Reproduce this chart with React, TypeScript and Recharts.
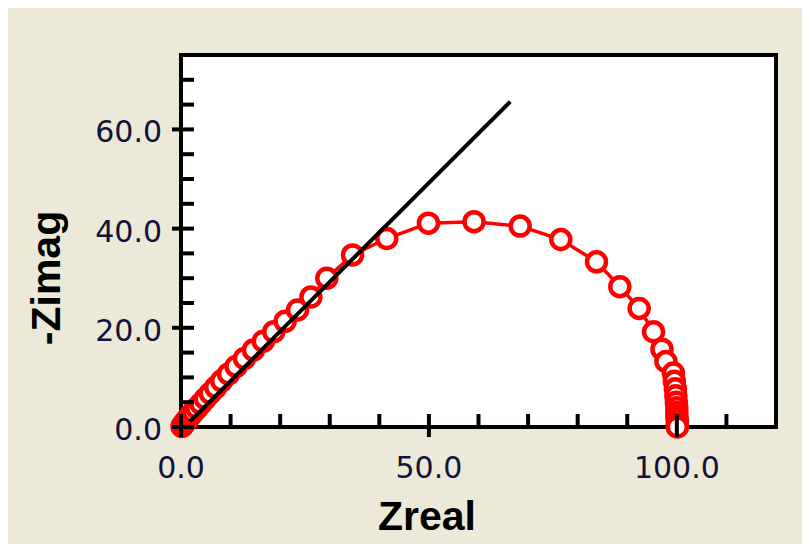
import {
  CartesianGrid,
  Label,
  ReferenceLine,
  Scatter,
  ScatterChart,
  XAxis,
  YAxis,
} from 'recharts'

// Nyquist points (ohm)
const zReal = [
  0.2, 0.4, 0.7, 1.0, 1.4, 1.9, 2.5, 3.2, 4.0, 4.9, 5.9, 7.0, 8.2, 9.6, 11.1, 12.8,
  14.6, 16.6, 18.7, 21.0, 23.5, 26.2, 29.4, 34.6, 41.5, 49.9, 59.1, 68.4, 76.6, 83.8,
  88.5, 92.4, 95.3, 97.0, 97.8, 99.3, 99.5, 99.7, 99.8, 99.9, 100.0, 100.0, 100.0,
  100.1, 100.1, 100.1,
]
const zImag = [
  0.1, 0.4, 0.8, 1.2, 1.7, 2.3, 3.0, 3.8, 4.7, 5.7, 6.8, 8.0, 9.3, 10.7, 12.2, 13.8,
  15.5, 17.3, 19.2, 21.3, 23.6, 26.2, 30.0, 34.7, 38.0, 41.1, 41.4, 40.5, 37.8, 33.3,
  28.3, 23.9, 19.2, 15.7, 13.2, 10.9, 9.2, 7.7, 6.3, 5.0, 3.9, 2.9, 2.1, 1.3, 0.6, 0,
]

// straight fit line
const fitReal = [1.8, 66.4]
const fitImag = [1.1, 65.6]

const xTicks = [0, 10, 20, 30, 40, 50, 60, 70, 80, 90, 100, 110]
const xLabelTicks = [0, 50, 100]
const yTicks = [0, 5, 10, 15, 20, 25, 30, 35, 40, 45, 50, 55, 60, 65, 70]
const yLabelTicks = [0, 20, 40, 60]

const measured = zReal.map((x, i) => ({ x, y: zImag[i] }))
const fit = fitReal.map((x, i) => ({ x, y: fitImag[i] }))

const INK = '#000'
const TICK_TEXT = '#12123a'
const tickFont = { fontFamily: '"DejaVu Sans", Verdana, sans-serif', fontSize: 30 }
const labelFont = { fontFamily: '"Liberation Sans", Arial, sans-serif', fontSize: 41, fontWeight: 700 }

function XTick(props: any) {
  const { x, y, payload } = props
  const major = xLabelTicks.includes(payload.value)
  return (
    <g>
      <line x1={x} x2={x} y1={major ? y + 10 : y} y2={y - 13} stroke={INK} strokeWidth={4} />
      {major && (
        <text x={x} y={y + 51} textAnchor="middle" fill={TICK_TEXT} {...tickFont}>
          {payload.value.toFixed(1)}
        </text>
      )}
    </g>
  )
}

function YTick(props: any) {
  const { x, y, payload } = props
  const major = yLabelTicks.includes(payload.value)
  return (
    <g>
      <line x1={major ? x - 9 : x} x2={x + 13} y1={y} y2={y} stroke={INK} strokeWidth={4} />
      {major && (
        <text x={x - 19} y={y + 13} textAnchor="end" fill={TICK_TEXT} {...tickFont}>
          {payload.value.toFixed(1)}
        </text>
      )}
    </g>
  )
}

function Ring(props: any) {
  return <circle cx={props.cx} cy={props.cy} r={9.5} fill="#fff" stroke="#f00" strokeWidth={4.5} />
}

export default function App() {
  return (
    <div style={{ width: 802, height: 536, background: '#ECE9D8' }}>
      <ScatterChart width={802} height={536} margin={{ top: 47, right: 34, left: 0, bottom: 0 }}>
        <CartesianGrid fill="#fff" horizontal={false} vertical={false} />
        <XAxis
          type="number"
          dataKey="x"
          domain={[0, 120]}
          ticks={xTicks}
          interval={0}
          height={117}
          tickSize={0}
          tickMargin={0}
          tickLine={false}
          tick={<XTick />}
          axisLine={{ stroke: INK, strokeWidth: 4, strokeLinecap: 'square' }}
        >
          <Label
            content={() => (
              <text x={419} y={522} textAnchor="middle" fill={INK} {...labelFont}>
                Zreal
              </text>
            )}
          />
        </XAxis>
        <YAxis
          type="number"
          dataKey="y"
          domain={[0, 75]}
          ticks={yTicks}
          interval={0}
          width={173}
          tickSize={0}
          tickMargin={0}
          tickLine={false}
          tick={<YTick />}
          axisLine={{ stroke: INK, strokeWidth: 4, strokeLinecap: 'square' }}
        >
          <Label
            content={() => (
              <text
                x={52}
                y={270}
                textAnchor="middle"
                transform="rotate(-90, 52, 270)"
                fill={INK}
                {...labelFont}
              >
                -Zimag
              </text>
            )}
          />
        </YAxis>
        <ReferenceLine y={75} stroke={INK} strokeWidth={4} strokeLinecap="square" />
        <ReferenceLine x={120} stroke={INK} strokeWidth={4} strokeLinecap="square" />
        <Scatter
          data={measured}
          line={{ stroke: '#f00', strokeWidth: 3.5 }}
          lineType="joint"
          shape={<Ring />}
          isAnimationActive={false}
        />
        <Scatter
          data={fit}
          line={{ stroke: INK, strokeWidth: 4 }}
          lineType="joint"
          shape={() => <g />}
          isAnimationActive={false}
        />
      </ScatterChart>
    </div>
  )
}
